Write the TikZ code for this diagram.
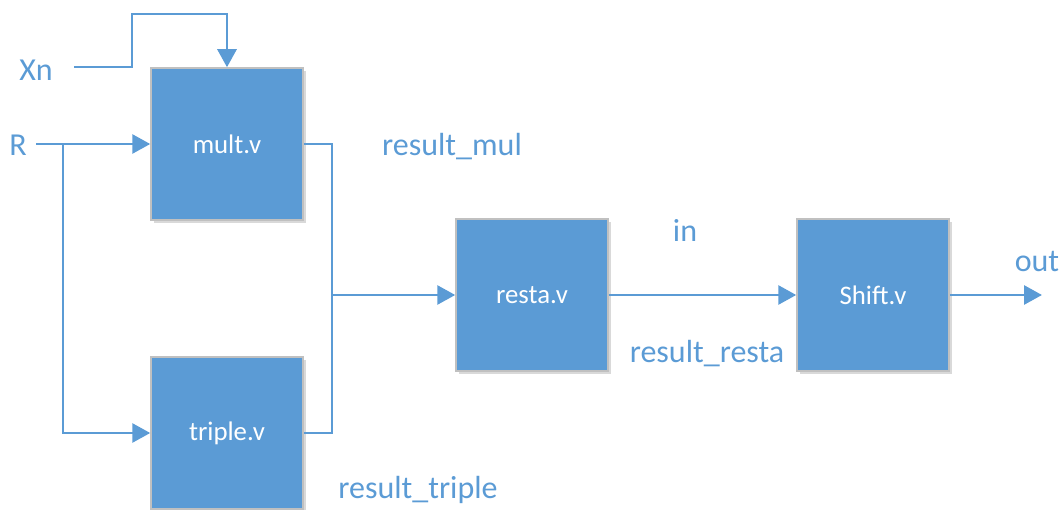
\documentclass[tikz,border=0pt]{standalone}
\usepackage{fontspec}
\setmainfont{Carlito}
\usetikzlibrary{arrows.meta,shadows}
\definecolor{blk}{HTML}{5B9BD5}
\definecolor{edge}{HTML}{C0C0C0}
\begin{document}
\begin{tikzpicture}[x=1pt,y=-1pt,
  module/.style={draw=edge, line width=1.5pt, fill=blk, minimum width=152pt, minimum height=152pt,
    inner sep=0pt, text=white, font=\fontsize{26.8}{30}\selectfont,
    drop shadow={shadow xshift=3pt, shadow yshift=-3pt, opacity=0.25, fill=black!60}},
  sig/.style={text=blk, font=\fontsize{32}{36}\selectfont, inner sep=0pt},
  wire/.style={draw=blk, line width=2.9pt},
  arr/.style={wire, -{Triangle[length=18pt,width=19pt]}}]
  \useasboundingbox (0,0) rectangle (1061,510);

  % modules
  \node[module] (mult) at (227,144) {mult.v};
  \node[module] (triple) at (227,433) {triple.v};
  \node[module] (resta) at (532,295) {resta.v};
  \node[module] (shift) at (873,295) {Shift.v};

  % signal names
  \node[sig] (xn) at (36,70) {Xn};
  \node[sig] (r) at (18,145) {R};
  \node[sig] (rmul) at (452,147) {result\_mul};
  \node[sig] (rtri) at (418,490) {result\_triple};
  \node[sig] (lin) at (685,230) {in};
  \node[sig] (rres) at (707,354) {result\_resta};
  \node[sig] (lout) at (1037,262) {out};

  % routing points
  \coordinate (xs) at (74,67);
  \coordinate (rs) at (36,144);
  \coordinate (rj) at (63,144);
  \coordinate (mj) at (332,295);
  \coordinate (oe) at (1042,295);

  % Xn into the top of mult.v
  \draw[arr] (xs) -| (132,14) -| (mult.north);
  % R into mult.v and triple.v
  \draw[arr] (rs) -- (mult.west);
  \draw[arr] (rj) |- (triple.west);
  % both results merge into resta.v
  \draw[wire] (mult.east) -| (mj);
  \draw[wire] (triple.east) -| (mj);
  \draw[arr] (mj) -- (resta.west);
  % resta.v to Shift.v and out
  \draw[arr] (resta.east) -- (shift.west);
  \draw[arr] (shift.east) -- (oe);
\end{tikzpicture}
\end{document}
